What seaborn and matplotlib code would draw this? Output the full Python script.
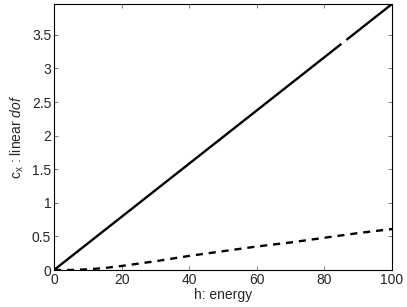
import matplotlib as mpl

mpl.use('Agg')
import numpy as np
import pandas as pd
import matplotlib.pyplot as plt
import seaborn as sns

sns.set_style('ticks')
plt.rcParams['font.family'] = ['Liberation Sans', 'DejaVu Sans']
plt.rcParams['mathtext.fontset'] = 'custom'
plt.rcParams['mathtext.rm'] = 'Liberation Sans'
plt.rcParams['mathtext.it'] = 'Liberation Sans:italic'

# linear dof (solid), small gap near h=85
h_lin = [0, 20, 40, 60, 67, 85, 85.7, 86.5, 100]
c_lin = [0, 0.792, 1.584, 2.376, 2.653, 3.366, np.nan, 3.425, 3.96]

# second curve (dashed)
h_dash = [0, 5, 10, 15, 20, 30, 40, 50, 60, 70, 80, 90, 100]
c_dash = [0, 0.0, 0.01, 0.03, 0.06, 0.13, 0.21, 0.28, 0.35, 0.41, 0.48, 0.55, 0.61]

df_lin = pd.DataFrame({'h': h_lin, 'c': c_lin})
df_dash = pd.DataFrame({'h': h_dash, 'c': c_dash})

fig = plt.figure(figsize=(4.07, 3.07), dpi=100)
ax = fig.add_axes([0.1327, 0.1205, 0.8305, 0.8665])

ax.plot(df_lin['h'], df_lin['c'], color='black', lw=1.7, ls='-',
        solid_capstyle='butt')
sns.lineplot(data=df_dash, x='h', y='c', color='black', lw=1.7, ax=ax,
             estimator=None, sort=False)
ax.lines[-1].set_linestyle((0, (3, 2.5)))

ax.set_xlim(0, 100)
ax.set_ylim(0, 3.96)
ax.set_xticks([0, 20, 40, 60, 80, 100])
ax.set_yticks([0, 0.5, 1, 1.5, 2, 2.5, 3, 3.5])
ax.set_yticklabels(['0', '0.5', '1', '1.5', '2', '2.5', '3', '3.5'])
ax.tick_params(direction='in', length=3, width=0.6, labelsize=10,
               top=True, right=True, color='0.4', pad=2)
for s in ax.spines.values():
    s.set_linewidth(0.8)
    s.set_color('black')

ax.set_xlabel('h: energy', fontsize=10, labelpad=1)
ax.set_ylabel(r'c$_\mathrm{x}$ : linear $dof$', fontsize=10, labelpad=4)

plt.savefig('out.png', dpi=100)
